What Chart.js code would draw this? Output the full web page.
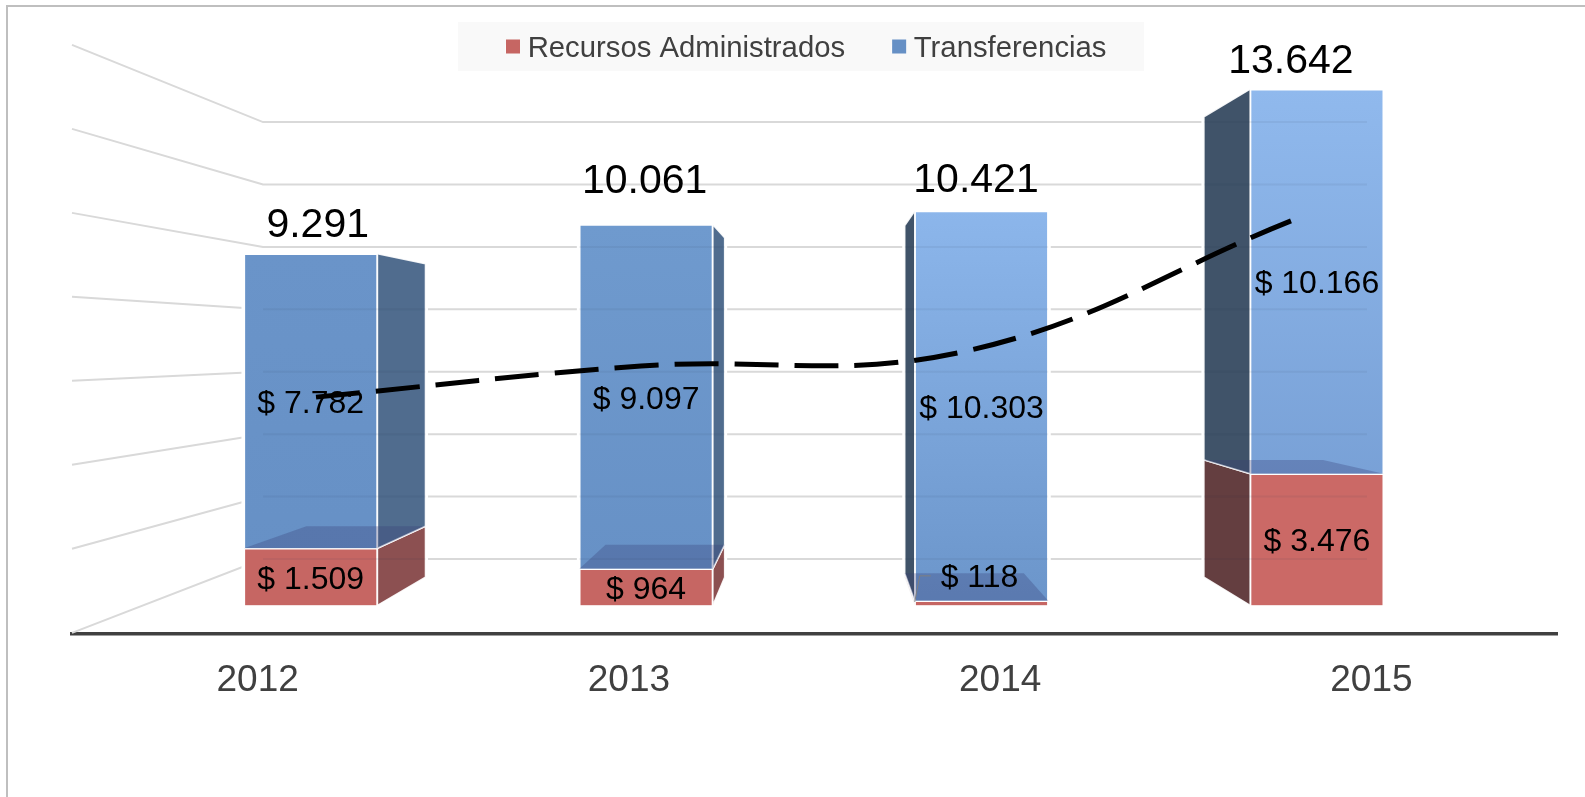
<!DOCTYPE html>
<html>
<head>
<meta charset="utf-8">
<style>
  html, body { margin: 0; padding: 0; background: #fff; overflow: hidden; }
  canvas { display: block; }
</style>
<script src="https://cdn.jsdelivr.net/npm/chart.js@4"></script>
</head>
<body>
<canvas id="chart" width="1585" height="797"></canvas>
<script>
const years = ['2012', '2013', '2014', '2015'];
const recursos = [1509, 964, 118, 3476];
const transferencias = [7782, 9097, 10303, 10166];
const totales = [9291, 10061, 10421, 13642];
const tendencia = [5503, 6323, 6720, 10160];
const gridValues = [0, 2000, 4000, 6000, 8000, 10000, 12000, 14000];

const FONT = '"Liberation Sans", Arial, sans-serif';

// colours per bar, front top/bottom and the side faces
const blueTop = ['#6a94c9', '#6f9ace', '#8cb6eb', '#90b9ed'];
const blueBottom = ['#6690c5', '#6690c5', '#6b95ca', '#7199cf'];
const redFront = ['#c66663', '#c66663', '#c66663', '#cb6966'];
const blueSide = ['#4a678a', '#4a678a', '#3a4d64', '#3a4d64'];
const redSide = ['#884a4b', '#884a4b', '#5f383a', '#5f383a'];

// fake 3d: depth goes toward this point
const VP = { x: 822, y: 345, depth: 0.108 };
const back = (x, y) => [x + VP.depth * (VP.x - x), y + VP.depth * (VP.y - y)];

function poly(ctx, pts) {
  ctx.beginPath();
  pts.forEach((p, i) => i ? ctx.lineTo(p[0], p[1]) : ctx.moveTo(p[0], p[1]));
  ctx.closePath();
}

const fmt = v => String(v).replace(/\B(?=(\d{3})+$)/g, '.');

// back wall line for a value on the y scale
function wallY(y, v) {
  const p0 = y.getPixelForValue(0);
  return p0 - 46.3 + (y.getPixelForValue(v) - p0) * 0.825;
}

// legend box + swatches, legend is moved up from its layout slot
const legendBox = {
  id: 'legendBox',
  afterLayout(chart) {
    const lg = chart.legend;
    const pad = lg.options.labels.padding;
    const start = (lg.left + pad + lg.right - lg.lineWidths[0]) / 2;
    const dx = 506 - start;
    const h = lg.height;
    lg.left += dx;
    lg.right += dx;
    lg.top = -13;
    lg.bottom = lg.top + h;
  },
  beforeDraw(chart) {
    const ctx = chart.ctx;
    ctx.save();
    ctx.fillStyle = '#f9f9f9';
    ctx.fillRect(458, 22, 686, 49);
    // outer frame, only top and left are in the picture
    ctx.strokeStyle = '#bfbfbf';
    ctx.lineWidth = 2;
    ctx.beginPath();
    ctx.moveTo(7, 797);
    ctx.lineTo(7, 6);
    ctx.lineTo(1585, 6);
    ctx.stroke();
    ctx.restore();
  },
  beforeDatasetsDraw(chart) {
    const ctx = chart.ctx;
    const lg = chart.legend;
    const pad = lg.options.labels.padding;
    let x = (lg.left + pad + lg.right - lg.lineWidths[0]) / 2;
    ctx.save();
    lg.legendItems.forEach((item, i) => {
      ctx.fillStyle = i === 0 ? redFront[0] : blueBottom[0];
      ctx.fillRect(x, 39.5, 14, 14);
      x += lg.legendHitBoxes[i].width + pad;
    });
    ctx.restore();
  }
};

// walls and side faces of the columns
const walls = {
  id: 'walls',
  beforeDatasetsDraw(chart) {
    const ctx = chart.ctx;
    const y = chart.scales.y;
    const p0 = y.getPixelForValue(0);
    ctx.save();

    ctx.strokeStyle = '#d9d9d9';
    ctx.lineWidth = 2;
    gridValues.forEach(v => {
      const p = y.getPixelForValue(v) - p0;
      const yFront = p0 + 27.5 + p * 1.11;
      const yBack = wallY(y, v);
      ctx.beginPath();
      ctx.moveTo(72, yFront);
      ctx.lineTo(263, yBack);
      ctx.lineTo(1367, yBack);
      ctx.stroke();
    });

    const red = chart.getDatasetMeta(0).data;
    const blue = chart.getDatasetMeta(1).data;
    years.forEach((_, i) => {
      const half = red[i].width / 2;
      const cx = red[i].x;
      const left = cx - half;
      const right = cx + half;
      const edge = right < VP.x ? right : left;
      const other = right < VP.x ? left : right;
      const faces = [
        [red[i].y, red[i].base, redSide[i]],
        [blue[i].y, blue[i].base, blueSide[i]]
      ];
      // white halo behind the column
      ctx.strokeStyle = '#fff';
      ctx.lineWidth = 5;
      poly(ctx, [[other, blue[i].y], [edge, blue[i].y], back(edge, blue[i].y), back(edge, red[i].base), [edge, red[i].base], [other, red[i].base]]);
      ctx.stroke();

      faces.forEach(f => {
        poly(ctx, [[edge, f[0]], back(edge, f[0]), back(edge, f[1]), [edge, f[1]]]);
        ctx.globalAlpha = 0.97;
        ctx.fillStyle = f[2];
        ctx.fill();
        ctx.globalAlpha = 1;
        ctx.strokeStyle = 'rgba(255,255,255,0.9)';
        ctx.lineWidth = 1.5;
        ctx.stroke();
      });
    });
    ctx.restore();
  }
};

// floor of the blue block seen through it, and all the labels
const labels = {
  id: 'labels',
  afterDatasetsDraw(chart) {
    const ctx = chart.ctx;
    const y = chart.scales.y;
    const red = chart.getDatasetMeta(0).data;
    const blue = chart.getDatasetMeta(1).data;
    const totalDx = [7, -1.5, -5.5, -26];
    const totalDy = [-28, -43, -30, -28];
    ctx.save();

    blue.forEach((b, i) => {
      const half = b.width / 2;
      const l = b.x - half;
      const r = b.x + half;
      poly(ctx, [[l, b.base], [r, b.base], back(r, b.base), back(l, b.base)]);
      ctx.fillStyle = 'rgba(52,60,115,0.3)';
      ctx.fill();

      // wall lines show faintly through the column
      const edge = r < VP.x ? r : l;
      const other = r < VP.x ? l : r;
      ctx.save();
      poly(ctx, [[other, b.y], [edge, b.y], back(edge, b.y), back(edge, red[i].base), [edge, red[i].base], [other, red[i].base]]);
      ctx.clip();
      ctx.strokeStyle = 'rgba(40,50,80,0.07)';
      ctx.lineWidth = 2;
      gridValues.forEach(v => {
        ctx.beginPath();
        ctx.moveTo(263, wallY(y, v));
        ctx.lineTo(1367, wallY(y, v));
        ctx.stroke();
      });
      ctx.restore();
    });

    ctx.textAlign = 'center';
    ctx.textBaseline = 'middle';
    ctx.fillStyle = '#000';
    ctx.font = '32px ' + FONT;
    blue.forEach((b, i) => {
      ctx.fillText('$ ' + fmt(transferencias[i]), b.x, (b.y + b.base) / 2 + 3);
    });
    red.forEach((b, i) => {
      if (recursos[i] < 500) {
        ctx.fillText('$ ' + fmt(recursos[i]), b.x - 2, b.y - 23);
        const l = b.x - b.width / 2;
        ctx.strokeStyle = '#7f7f7f';
        ctx.lineWidth = 1;
        ctx.beginPath();
        ctx.moveTo(l, b.y + 1);
        ctx.lineTo(l + 5, b.y - 25);
        ctx.lineTo(l + 16, b.y - 25);
        ctx.stroke();
      } else {
        ctx.fillText('$ ' + fmt(recursos[i]), b.x, (b.y + b.base) / 2 + 3);
      }
    });

    ctx.font = '41px ' + FONT;
    blue.forEach((b, i) => {
      ctx.fillText(fmt(totales[i]), b.x + totalDx[i], b.y + totalDy[i]);
    });
    ctx.restore();
  }
};

function blueGradient(c) {
  const i = c.dataIndex;
  const y = c.chart.scales.y;
  if (!y || !c.chart.chartArea) return blueBottom[i];
  const g = c.chart.ctx.createLinearGradient(0, y.getPixelForValue(totales[i]), 0, y.getPixelForValue(0));
  g.addColorStop(0, blueTop[i]);
  g.addColorStop(1, blueBottom[i]);
  return g;
}

new Chart(document.getElementById('chart'), {
  data: {
    labels: years,
    datasets: [
      {
        type: 'bar',
        label: 'Recursos Administrados',
        xAxisID: 'xBars',
        data: recursos.map((v, i) => ({ x: i, y: v })),
        backgroundColor: c => redFront[c.dataIndex],
        borderColor: 'rgba(255,255,255,0.85)',
        borderWidth: 1.5,
        barThickness: 133.5,
        order: 2
      },
      {
        type: 'bar',
        label: 'Transferencias',
        xAxisID: 'xBars',
        data: transferencias.map((v, i) => ({ x: i, y: v })),
        backgroundColor: blueGradient,
        borderColor: 'rgba(255,255,255,0.85)',
        borderWidth: 1.5,
        barThickness: 133.5,
        order: 2
      },
      {
        type: 'line',
        label: 'Tendencia',
        xAxisID: 'xLine',
        data: tendencia.map((v, i) => ({ x: i, y: v })),
        borderColor: '#000',
        borderWidth: 5,
        borderDash: [44, 16],
        tension: 0.4,
        pointRadius: 0,
        fill: false,
        order: 1
      }
    ]
  },
  options: {
    responsive: false,
    animation: false,
    events: [],
    layout: { padding: { left: 72, right: 28, top: 0, bottom: 0 } },
    scales: {
      x: {
        type: 'category',
        offset: true,
        grid: { display: false, drawTicks: false },
        border: { display: true, color: '#404040', width: 3.5 },
        ticks: { color: '#404040', padding: 25, maxRotation: 0, font: { family: FONT, size: 37 } },
        afterFit: s => { s.height = 77; }
      },
      // columns stand on a plane deeper than the axis, so spacing is tighter.
      // fixed thickness bars come out half a bar left of the value, range allows for it
      xBars: { type: 'linear', display: false, offset: false, stacked: true, min: -0.9107, max: 3.5168 },
      xLine: { type: 'linear', display: false, offset: false, min: -0.7508, max: 3.8185 },
      y: { display: false, stacked: true, min: -750, max: 16000 }
    },
    plugins: {
      tooltip: { enabled: false },
      legend: {
        position: 'bottom',
        labels: {
          boxWidth: 7,
          boxHeight: 7,
          padding: 47,
          color: '#404040',
          font: { family: FONT, size: 29.3 },
          filter: item => item.datasetIndex < 2
        }
      }
    }
  },
  plugins: [legendBox, walls, labels]
});
</script>
</body>
</html>
